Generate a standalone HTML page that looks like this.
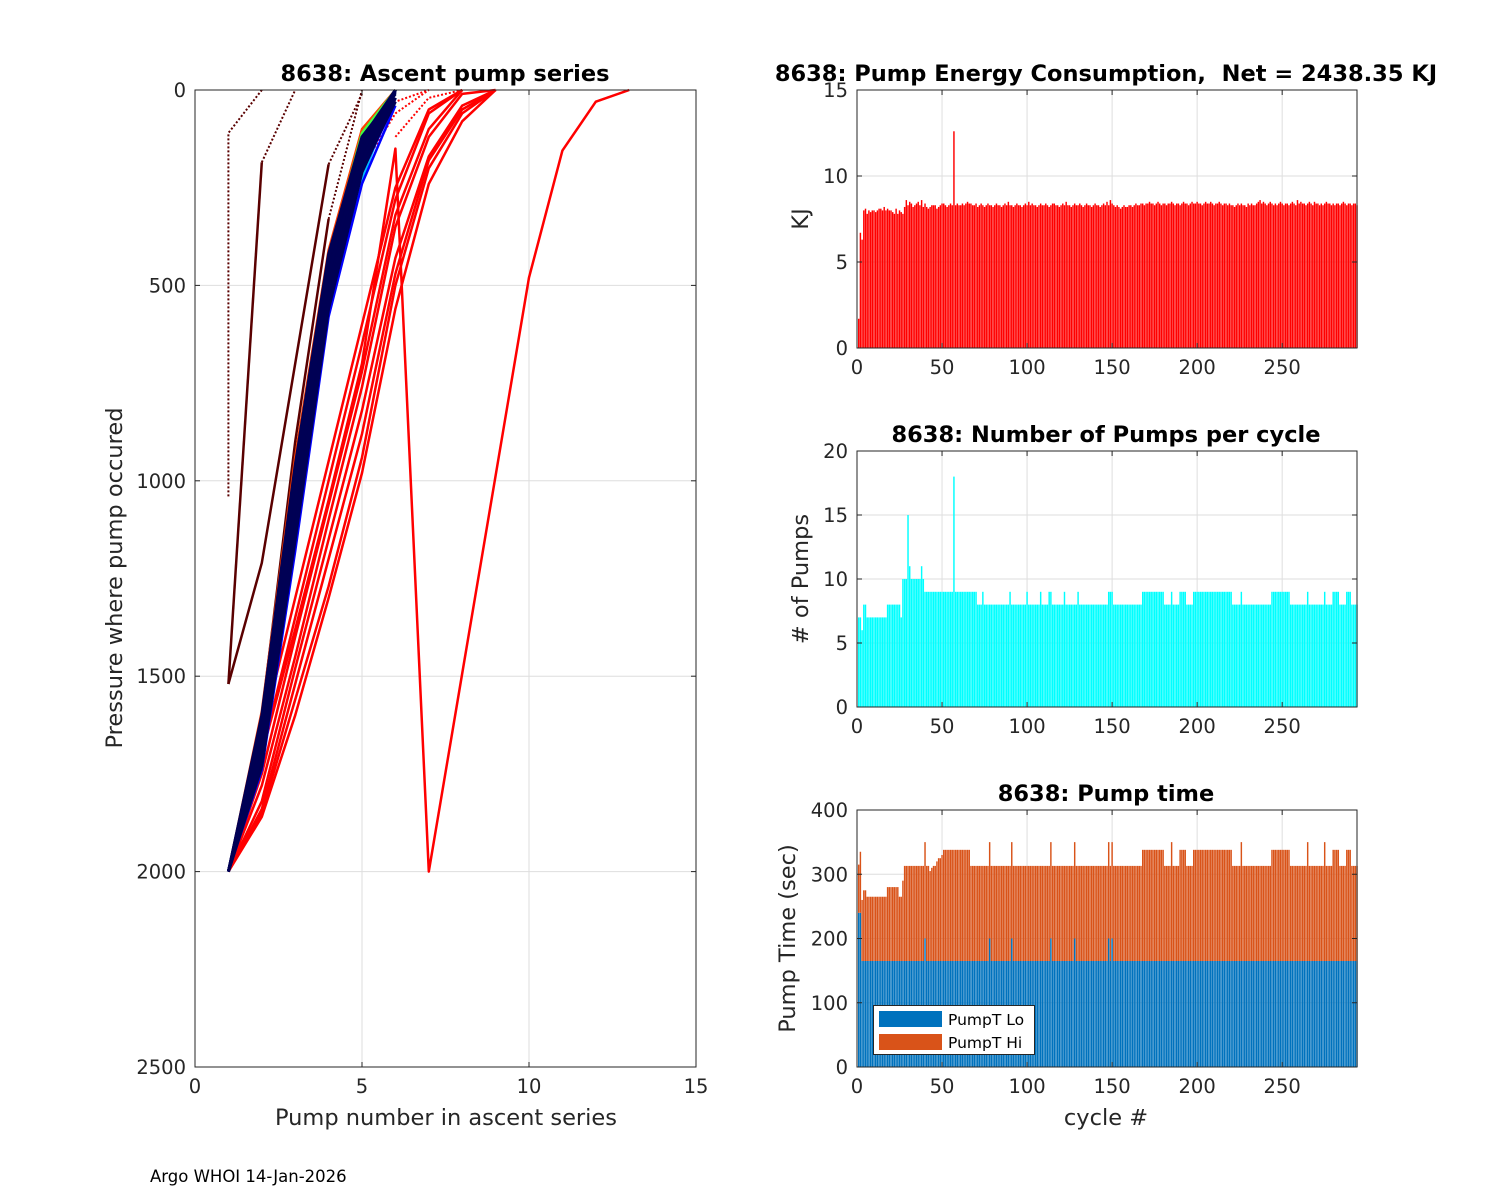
<!DOCTYPE html>
<html><head><meta charset="utf-8"><style>
html,body{margin:0;padding:0;background:#fff;}
svg{display:block;font-family:"DejaVu Sans","Liberation Sans",sans-serif;}
text{white-space:pre;}
</style></head><body>
<svg id="fig" width="1500" height="1200" viewBox="0 0 1500 1200" xmlns="http://www.w3.org/2000/svg"></svg>
<script>
// ---------- Ascent pump series (pump #, pressure) ----------
const navyProfiles = [
 [2000,1650,1000,460,150,0],[2000,1700,1050,470,140,0],[2000,1620,980,440,130,0],
 [2000,1680,1080,500,170,0],[2000,1600,960,420,120,10],[2000,1660,1030,480,160,0],
 [2000,1720,1100,520,190,20],[2000,1640,1010,450,135,0],[2000,1690,1060,490,180,5],
 [2000,1610,990,430,125,0],[2000,1670,1040,475,150,0],[2000,1700,1120,540,200,30],
 [2000,1730,1150,560,210,20],[2000,1630,1000,470,160,0]
];
const blueProfiles = [[2000,1720,1150,540,210,30],[2000,1740,1180,580,240,40]];
const cyanProfiles = [[2000,1730,1160,570,230,0]];
const greenProfiles = [[2000,1630,980,440,120,0],[2000,1620,970,430,110,0]];
const orangeProfiles = [[2000,1590,940,410,100,0]];
const redProfiles = [
 [2000,1850,1560,1270,940,500,200,60,0],[2000,1860,1600,1300,980,560,240,80,0],
 [2000,1840,1520,1200,880,470,180,50,0],[2000,1750,1400,1060,720,320,100,0],
 [2000,1780,1450,1100,760,350,120,10,0],[2000,1700,1350,1000,650,280,60,0],
 [2000,1650,1300,950,600,250,50,0],[2000,1820,1480,1150,820,430,170,40,0],
 [2000,1700,1380,1050,700,150,2000,1493,987,480,155,30,0]
];
const maroonSolid = [[[1,1520],[2,1210],[4,190]],[[1,1520],[2,185]],[[1,2000],[2,1600],[3,900],[4,330]]];
const maroonDotted = [[[1,1040],[1,110],[2,0]],[[2,185],[3,0]],[[4,190],[5,10]],[[4,330],[5,0]],[[5,100],[6,0]]];
const redDotted = [[[5,200],[6,60],[7,0]],[[5,150],[6,30],[7,0]],[[6,120],[7,20],[8,0]],[[12,30],[13,0]]];
const leftXTicks = [0,5,10,15];
const leftYTicks = [0,500,1000,1500,2000,2500];

// ---------- Energy per cycle (KJ) ----------
const energy = [
1.7,6.7,6.3,8.0,8.1,7.8,8.0,7.9,8.0,8.0, 7.9,8.0,8.1,8.1,8.0,8.2,8.0,8.1,8.0,8.0,
7.9,7.8,8.1,7.8,8.0,7.9,7.8,8.2,8.6,8.3, 8.5,8.4,8.2,8.3,8.4,8.5,8.3,8.6,8.2,8.4,
8.2,8.1,8.2,8.3,8.3,8.3,8.1,8.2,8.3,8.4, 8.4,8.3,8.2,8.3,8.4,8.3,12.6,8.3,8.4,8.3,
8.3,8.4,8.3,8.4,8.5,8.4,8.4,8.3,8.3,8.4, 8.2,8.3,8.4,8.3,8.2,8.3,8.4,8.3,8.3,8.2,
8.3,8.4,8.3,8.3,8.2,8.3,8.4,8.3,8.5,8.3, 8.3,8.2,8.3,8.4,8.3,8.3,8.2,8.3,8.4,8.3,
8.5,8.3,8.4,8.3,8.3,8.2,8.3,8.4,8.3,8.3, 8.4,8.3,8.2,8.3,8.4,8.4,8.3,8.3,8.2,8.3,
8.4,8.3,8.5,8.3,8.3,8.2,8.3,8.4,8.3,8.3, 8.4,8.3,8.2,8.3,8.4,8.3,8.3,8.2,8.3,8.4,
8.3,8.3,8.2,8.3,8.4,8.3,8.5,8.3,8.6,8.4, 8.3,8.2,8.3,8.2,8.1,8.2,8.3,8.2,8.2,8.3,
8.3,8.2,8.3,8.4,8.3,8.3,8.4,8.4,8.3,8.4, 8.4,8.5,8.4,8.4,8.3,8.4,8.5,8.4,8.3,8.4,
8.4,8.3,8.4,8.4,8.5,8.4,8.3,8.4,8.4,8.3, 8.4,8.5,8.4,8.4,8.3,8.4,8.5,8.4,8.4,8.5,
8.4,8.4,8.3,8.4,8.5,8.4,8.4,8.5,8.4,8.3, 8.4,8.4,8.5,8.4,8.3,8.4,8.4,8.3,8.4,8.3,
8.3,8.2,8.3,8.4,8.3,8.4,8.3,8.3,8.2,8.4, 8.3,8.4,8.3,8.3,8.4,8.5,8.6,8.4,8.5,8.4,
8.3,8.4,8.5,8.4,8.3,8.4,8.3,8.4,8.5,8.4, 8.3,8.4,8.4,8.3,8.4,8.5,8.4,8.3,8.6,8.4,
8.5,8.4,8.4,8.3,8.4,8.5,8.4,8.3,8.5,8.4, 8.4,8.3,8.4,8.3,8.4,8.5,8.4,8.4,8.3,8.4,
8.3,8.4,8.4,8.3,8.4,8.5,8.4,8.3,8.4,8.4, 8.3,8.4,8.4,8.3
];
const energyTicks = [0,5,10,15];

// ---------- Number of pumps per cycle ----------
const pumps = [
7,7,6,8,8,7,7,7,7,7, 7,7,7,7,7,7,7,8,8,8, 8,8,8,8,8,7,10,10,10,15, 11,10,10,10,10,10,10,11,10,9,
9,9,9,9,9,9,9,9,9,9, 9,9,9,9,9,9,18,9,9,9, 9,9,9,9,9,9,9,9,9,9, 8,8,8,9,8,8,8,8,8,8,
8,8,8,8,8,8,8,8,8,9, 8,8,8,8,8,8,8,8,8,9, 8,8,8,8,8,8,8,9,8,8, 8,8,9,9,8,8,8,8,8,8,
8,9,8,8,8,8,8,8,8,9, 8,8,8,8,8,8,8,8,8,8, 8,8,8,8,8,8,8,9,9,9, 8,8,8,8,8,8,8,8,8,8,
8,8,8,8,8,8,8,9,9,9, 9,9,9,9,9,9,9,9,9,9, 8,8,8,8,9,8,8,8,8,9, 9,9,9,8,8,8,8,9,9,9,
9,9,9,9,9,9,9,9,9,9, 9,9,9,9,9,9,9,9,9,9, 8,8,8,8,8,9,8,8,8,8, 8,8,8,8,8,8,8,8,8,8,
8,8,8,9,9,9,9,9,9,9, 9,9,9,9,8,8,8,8,8,8, 8,8,8,8,9,8,8,8,8,8, 8,8,8,8,9,8,8,8,8,9,
9,9,9,8,8,8,8,9,9,9, 8,8,8,8
];
const pumpTicks = [0,5,10,15,20];

// ---------- Pump time (sec) ----------
const pumpTimeLo = [
240,240,165,165,165,165,165,165,165,165, 165,165,165,165,165,165,165,165,165,165,
165,165,165,165,165,165,165,165,165,165, 165,165,165,165,165,165,165,165,165,200,
165,165,165,165,165,165,165,165,165,165, 165,165,165,165,165,165,165,165,165,165,
165,165,165,165,165,165,165,165,165,165, 165,165,165,165,165,165,165,200,165,165,
165,165,165,165,165,165,165,165,165,165, 200,165,165,165,165,165,165,165,165,165,
165,165,165,165,165,165,165,165,165,165, 165,165,165,200,165,165,165,165,165,165,
165,165,165,165,165,165,165,200,165,165, 165,165,165,165,165,165,165,165,165,165,
165,165,165,165,165,165,165,200,165,200, 165,165,165,165,165,165,165,165,165,165,
165,165,165,165,165,165,165,165,165,165, 165,165,165,165,165,165,165,165,165,165,
165,165,165,165,165,165,165,165,165,165, 165,165,165,165,165,165,165,165,165,165,
165,165,165,165,165,165,165,165,165,165, 165,165,165,165,165,165,165,165,165,165,
165,165,165,165,165,165,165,165,165,165, 165,165,165,165,165,165,165,165,165,165,
165,165,165,165,165,165,165,165,165,165, 165,165,165,165,165,165,165,165,165,165,
165,165,165,165,165,165,165,165,165,165, 165,165,165,165,165,165,165,165,165,165,
165,165,165,165,165,165,165,165,165,165, 165,165,165,165
];
const pumpTimeHi = [
75,95,95,110,110,100,100,100,100,100, 100,100,100,100,100,100,100,115,115,115,
115,115,115,115,100,100,125,148,148,148, 148,148,148,148,148,148,148,148,148,150,
148,148,140,145,148,148,155,160,160,165, 173,173,173,173,173,173,173,173,173,173,
173,173,173,173,173,173,148,148,148,148, 148,148,148,148,148,148,148,150,148,148,
148,148,148,148,148,148,148,148,148,148, 150,148,148,148,148,148,148,148,148,148,
148,148,148,148,148,148,148,148,148,148, 148,148,148,150,148,148,148,148,148,148,
148,148,148,148,148,148,148,150,148,148, 148,148,148,148,148,148,148,148,148,148,
148,148,148,148,148,148,148,150,148,150, 148,148,148,148,148,148,148,148,148,148,
148,148,148,148,148,148,148,173,173,173, 173,173,173,173,173,173,173,173,173,173,
148,148,148,148,185,148,148,148,148,173, 173,173,173,148,148,148,148,173,173,173,
173,173,173,173,173,173,173,173,173,173, 173,173,173,173,173,173,173,173,173,173,
148,148,148,148,148,185,148,148,148,148, 148,148,148,148,148,148,148,148,148,148,
148,148,148,173,173,173,173,173,173,173, 173,173,173,173,148,148,148,148,148,148,
148,148,148,148,185,148,148,148,148,148, 148,148,148,148,185,148,148,148,148,173,
173,173,173,148,148,148,148,173,173,173, 148,148,148,148
];
const timeTicks = [0,100,200,300,400];
const cycleTicks = [0,50,100,150,200,250];

const NS = "http://www.w3.org/2000/svg";
const svg = document.getElementById('fig');
function mk(tag, attrs, parent){ const e=document.createElementNS(NS,tag); for(const k in attrs) e.setAttribute(k,attrs[k]); (parent||svg).appendChild(e); return e; }
function txt(s, attrs, parent){ const e=mk('text',attrs,parent); e.textContent=s; return e; }
const TICK=19.5, LAB=22.5, TIT=22.5;

// ---------- Left axes ----------
const L = {x0:195,x1:696,y0:90,y1:1067};
const lx = v => L.x0 + (v/15)*(L.x1-L.x0);
const ly = v => L.y0 + (v/2500)*(L.y1-L.y0);
const gL = mk('g',{});


mk('rect',{x:L.x0,y:L.y0,width:L.x1-L.x0,height:L.y1-L.y0,fill:'#fff'},gL);
leftXTicks.forEach(t=>{ mk('line',{x1:lx(t),y1:L.y0,x2:lx(t),y2:L.y1,stroke:'#dedede','stroke-width':1},gL); });
leftYTicks.forEach(t=>{ mk('line',{x1:L.x0,y1:ly(t),x2:L.x1,y2:ly(t),stroke:'#dedede','stroke-width':1},gL); });
function poly(points, color, dashed, w, name){
  const d = points.map(p=>lx(p[0]).toFixed(1)+','+ly(p[1]).toFixed(1)).join(' ');
  const e = mk('polyline',{points:d,fill:'none',stroke:color,'stroke-width':w||2,'stroke-linejoin':'round'},gL);
  if(dashed) e.setAttribute('stroke-dasharray','2,2');
  
  
}
function prof(arr){ return arr.map((p,i)=>[i+1,p]); }
maroonDotted.forEach(p=>poly(p,'#5a0000',true,2,'maroon-dotted-profile'));
maroonSolid.forEach(p=>poly(p,'#5a0000',false,2.5,'maroon-profile'));
redDotted.forEach(p=>poly(p,'#ff0000',true,2,'red-dotted-profile'));
redProfiles.forEach(p=>poly(prof(p),'#ff0000',false,2.5,'red-profile'));
orangeProfiles.forEach(p=>poly(prof(p),'#ff4000',false,2.5,'orange-profile'));
greenProfiles.forEach(p=>poly(prof(p),'#40ff40',false,2.5,'green-profile'));
cyanProfiles.forEach(p=>poly(prof(p),'#00c0ff',false,2.5,'cyan-profile'));
blueProfiles.forEach(p=>poly(prof(p),'#0000ff',false,2.5,'blue-profile'));
navyProfiles.forEach(p=>poly(prof(p),'#000055',false,3,'navy-profile'));
mk('rect',{x:L.x0,y:L.y0,width:L.x1-L.x0,height:L.y1-L.y0,fill:'none',stroke:'#262626','stroke-width':1},gL);
leftXTicks.forEach(t=>{
  mk('line',{x1:lx(t),y1:L.y1,x2:lx(t),y2:L.y1-5,stroke:'#262626'},gL);
  mk('line',{x1:lx(t),y1:L.y0,x2:lx(t),y2:L.y0+5,stroke:'#262626'},gL);
  const e=txt(String(t),{x:lx(t),y:L.y1+26,'text-anchor':'middle','font-size':TICK,fill:'#262626'},gL);
   
});
leftYTicks.forEach(t=>{
  mk('line',{x1:L.x0,y1:ly(t),x2:L.x0+5,y2:ly(t),stroke:'#262626'},gL);
  mk('line',{x1:L.x1,y1:ly(t),x2:L.x1-5,y2:ly(t),stroke:'#262626'},gL);
  const e=txt(String(t),{x:L.x0-9,y:ly(t)+7,'text-anchor':'end','font-size':TICK,fill:'#262626'},gL);
   
});
txt('8638: Ascent pump series',{x:445,y:81,'text-anchor':'middle','font-size':TIT,'font-weight':'bold',fill:'#000',},gL);
txt('Pump number in ascent series',{x:446,y:1125,'text-anchor':'middle','font-size':LAB,fill:'#262626',},gL);
txt('Pressure where pump occured',{x:0,y:0,transform:'translate(122,578) rotate(-90)','text-anchor':'middle','font-size':LAB,fill:'#262626',},gL);

// ---------- Right axes helper ----------
const RX0=857, RX1=1357, CMAX=294;
const cx = c => RX0 + (c/CMAX)*(RX1-RX0);
const bw = 0.85*(RX1-RX0)/CMAX;
function rightAxes(name, y0, y1, ymax, yticks, title, ylabel, ylabelX){
  const g = mk('g',{});
  
  
  const yy = v => y1 - (v/ymax)*(y1-y0);
  mk('rect',{x:RX0,y:y0,width:RX1-RX0,height:y1-y0,fill:'#fff'},g);
  cycleTicks.forEach(t=>mk('line',{x1:cx(t),y1:y0,x2:cx(t),y2:y1,stroke:'#dedede'},g));
  yticks.forEach(t=>mk('line',{x1:RX0,y1:yy(t),x2:RX1,y2:yy(t),stroke:'#dedede'},g));
  const bars = mk('g',{},g);
  const frame = ()=>{
    mk('rect',{x:RX0,y:y0,width:RX1-RX0,height:y1-y0,fill:'none',stroke:'#262626'},g);
    cycleTicks.forEach(t=>{
      mk('line',{x1:cx(t),y1:y1,x2:cx(t),y2:y1-5,stroke:'#262626'},g);
      mk('line',{x1:cx(t),y1:y0,x2:cx(t),y2:y0+5,stroke:'#262626'},g);
      const e=txt(String(t),{x:cx(t),y:y1+26,'text-anchor':'middle','font-size':TICK,fill:'#262626'},g);
       
    });
    yticks.forEach(t=>{
      mk('line',{x1:RX0,y1:yy(t),x2:RX0+5,y2:yy(t),stroke:'#262626'},g);
      mk('line',{x1:RX1,y1:yy(t),x2:RX1-5,y2:yy(t),stroke:'#262626'},g);
      const e=txt(String(t),{x:RX0-9,y:yy(t)+7,'text-anchor':'end','font-size':TICK,fill:'#262626'},g);
       
    });
    const tt=txt(title,{x:1106,y:y0-9,'text-anchor':'middle','font-size':TIT,'font-weight':'bold',fill:'#000'},g);
     
    const yl=txt(ylabel,{x:0,y:0,transform:`translate(${ylabelX},${(y0+y1)/2}) rotate(-90)`,'text-anchor':'middle','font-size':LAB,fill:'#262626'},g);
     
  };
  return {g,bars,yy,frame};
}

// Energy
const A1 = rightAxes('energy-axes',90,348,15,energyTicks,'8638: Pump Energy Consumption,  Net = 2438.35 KJ','KJ',808);
energy.forEach((v,i)=>{
  const c=i+1;
  const r=mk('rect',{x:cx(c)-bw/2,y:A1.yy(v),width:bw,height:A1.yy(0)-A1.yy(v),fill:'#ff0000'},A1.bars);
  
  
});
A1.frame();

// Pumps
const A2 = rightAxes('pumps-axes',451,707,20,pumpTicks,'8638: Number of Pumps per cycle','# of Pumps',808);
pumps.forEach((v,i)=>{
  const c=i+1;
  const r=mk('rect',{x:cx(c)-bw/2,y:A2.yy(v),width:bw,height:A2.yy(0)-A2.yy(v),fill:'#00ffff'},A2.bars);
  
  
});
A2.frame();

// Pump time
const A3 = rightAxes('pump-time-axes',810,1067,400,timeTicks,'8638: Pump time','Pump Time (sec)',795);
pumpTimeHi.forEach((hi,i)=>{
  const c=i+1, lo=pumpTimeLo[i];
  const r1=mk('rect',{x:cx(c)-bw/2,y:A3.yy(lo),width:bw,height:A3.yy(0)-A3.yy(lo),fill:'#0072bd'},A3.bars);
  
  
  const r2=mk('rect',{x:cx(c)-bw/2,y:A3.yy(lo+hi),width:bw,height:A3.yy(lo)-A3.yy(lo+hi),fill:'#d95319'},A3.bars);
  
  
});
A3.frame();
txt('cycle #',{x:1106,y:1125,'text-anchor':'middle','font-size':LAB,fill:'#262626',});

// legend
const lg = mk('g',{});
mk('rect',{x:873.5,y:1005.5,width:161,height:49,fill:'#fff',stroke:'#262626'},lg);
mk('rect',{x:879,y:1011,width:63,height:16,fill:'#0072bd',},lg);
mk('rect',{x:879,y:1034,width:63,height:16,fill:'#d95319',},lg);
txt('PumpT Lo',{x:948,y:1025,'font-size':15.5,fill:'#000',},lg);
txt('PumpT Hi',{x:948,y:1048,'font-size':15.5,fill:'#000',},lg);

txt('Argo WHOI 14-Jan-2026',{x:150,y:1182,'font-size':16.5,fill:'#000',});
</script>
</body></html>
